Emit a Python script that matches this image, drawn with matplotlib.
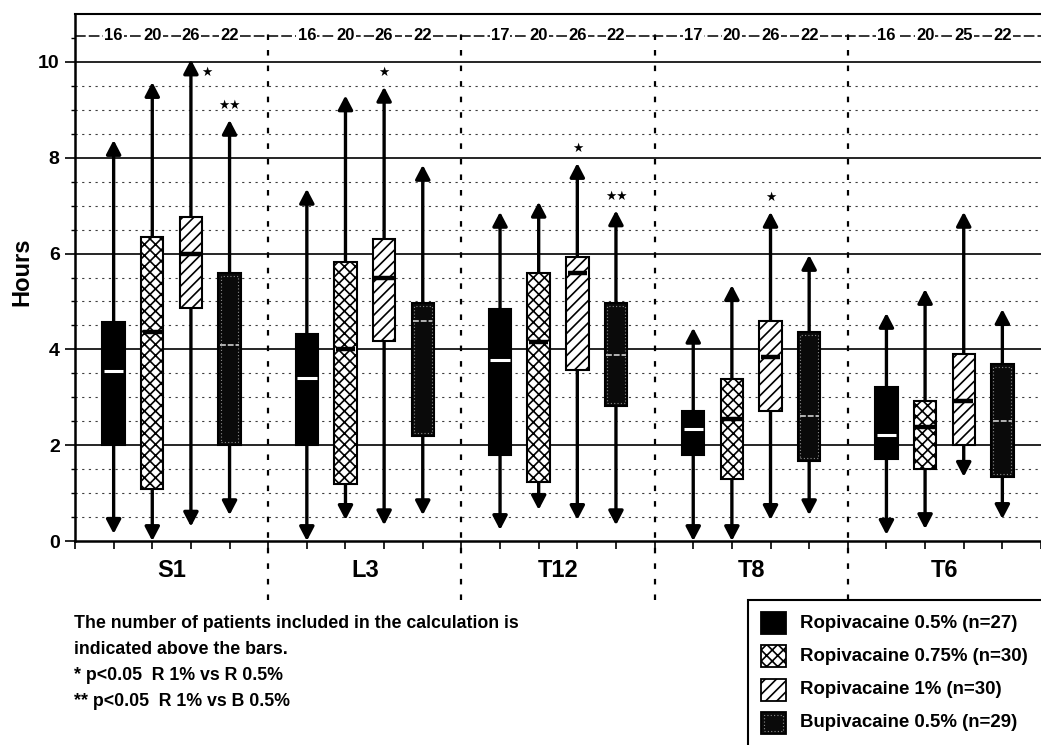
import matplotlib
matplotlib.use("Agg")
import matplotlib.pyplot as plt
from matplotlib.patches import Rectangle

plt.rcParams['font.family'] = ['Liberation Sans', 'DejaVu Sans']
plt.rcParams['font.weight'] = 'bold'
plt.rcParams['hatch.linewidth'] = 1.2

# ---------------- data ----------------
groups = ['S1', 'L3', 'T12', 'T8', 'T6']
series_labels = ['Ropivacaine 0.5% (n=27)', 'Ropivacaine 0.75% (n=30)',
                 'Ropivacaine 1% (n=30)', 'Bupivacaine 0.5% (n=29)']

r05_low = [0.15, 0.0, 0.23, 0.0, 0.13]
r05_q1 = [2.0, 2.0, 1.8, 1.8, 1.71]
r05_med = [3.55, 3.4, 3.78, 2.34, 2.21]
r05_q3 = [4.58, 4.32, 4.84, 2.71, 3.21]
r05_high = [8.37, 7.35, 6.87, 4.45, 4.76]

r075_low = [0.0, 0.44, 0.65, 0.0, 0.25]
r075_q1 = [1.08, 1.2, 1.23, 1.29, 1.5]
r075_med = [4.37, 4.0, 4.15, 2.55, 2.38]
r075_q3 = [6.35, 5.83, 5.59, 3.38, 2.92]
r075_high = [9.58, 9.3, 7.08, 5.34, 5.26]

r1_low = [0.3, 0.33, 0.44, 0.44, 1.34]
r1_q1 = [4.86, 4.18, 3.57, 2.71, 2.0]
r1_med = [6.0, 5.5, 5.6, 3.84, 2.92]
r1_q3 = [6.77, 6.3, 5.93, 4.59, 3.9]
r1_high = [10.05, 9.48, 7.89, 6.87, 6.87]

b05_low = [0.54, 0.54, 0.33, 0.54, 0.46]
b05_q1 = [2.0, 2.2, 2.82, 1.67, 1.34]
b05_med = [4.1, 4.6, 3.88, 2.6, 2.5]
b05_q3 = [5.6, 4.97, 4.97, 4.36, 3.7]
b05_high = [8.79, 7.85, 6.9, 5.97, 4.84]

r05_n = [16, 16, 17, 17, 16]
r075_n = [20, 20, 20, 20, 20]
r1_n = [26, 26, 26, 26, 25]
b05_n = [22, 22, 22, 22, 22]

# significance marks: (group, series index, number of stars)
sig_marks = [('S1', 2, 1), ('S1', 3, 2), ('L3', 2, 1),
             ('T12', 2, 1), ('T12', 3, 2), ('T8', 2, 1)]

y_major = [0, 2, 4, 6, 8, 10]

note_lines = ['The number of patients included in the calculation is',
              'indicated above the bars.',
              '* p<0.05  R 1% vs R 0.5%',
              '** p<0.05  R 1% vs B 0.5%']

series_data = [
    dict(low=r05_low, q1=r05_q1, med=r05_med, q3=r05_q3, high=r05_high, n=r05_n),
    dict(low=r075_low, q1=r075_q1, med=r075_med, q3=r075_q3, high=r075_high, n=r075_n),
    dict(low=r1_low, q1=r1_q1, med=r1_med, q3=r1_q3, high=r1_high, n=r1_n),
    dict(low=b05_low, q1=b05_q1, med=b05_med, q3=b05_q3, high=b05_high, n=b05_n),
]

styles = [
    dict(face='black', hatch=None, med_color='white', med_lw=2.2, med_ls='-', inner=False),
    dict(face='white', hatch='xxx', med_color='black', med_lw=3.2, med_ls='-', inner=False),
    dict(face='white', hatch='///', med_color='black', med_lw=3.2, med_ls='-', inner=False),
    dict(face='#0a0a0a', hatch=None, med_color='0.7', med_lw=1.4, med_ls=(0, (3, 1)), inner=True),
]

# ---------------- figure ----------------
W, H = 1041, 745
fig = plt.figure(figsize=(W / 100, H / 100), dpi=100)


def fx(px):
    return px / W


def fy(py):
    return 1 - py / H


ax = fig.add_axes([fx(75), fy(541), fx(1041) - fx(75), fy(14) - fy(541)])
ax.set_xlim(0, 25)
ax.set_ylim(0, 11)

n_groups = len(groups)
n_series = len(series_labels)
step = n_series + 1

# grid lines
for y in y_major[1:]:
    ax.axhline(y, color='black', lw=1.2, zorder=0)
minor_vals = [v / 2 for v in range(1, 20) if v % 4 != 0]
for y in minor_vals:
    ax.axhline(y, color='0.25', lw=0.8, ls=(0, (2, 4)), zorder=0)

# number line at top
ax.axhline(10.55, color='black', lw=1.1, ls=(0, (7, 2)), zorder=1)

# separators
for g in range(1, n_groups):
    ax.axvline(g * step, ymin=-0.112, ymax=0.975, color='black', lw=1.6,
               ls=(0, (2.5, 4.5)), clip_on=False, zorder=1)

box_w = 0.58
tips = {}
for g in range(n_groups):
    for s in range(n_series):
        d = series_data[s]
        st = styles[s]
        pos = g * step + s + 1
        q1, q3, med = d['q1'][g], d['q3'][g], d['med'][g]
        lo, hi = d['low'][g], d['high'][g]
        tips[(groups[g], s)] = (pos, hi)
        for start, end in ((q3, hi), (q1, lo)):
            ax.annotate('', xy=(pos, end), xytext=(pos, start),
                        arrowprops=dict(arrowstyle='-|>,head_length=0.42,head_width=0.22',
                                        lw=2.4, color='black', shrinkA=0, shrinkB=0,
                                        mutation_scale=20),
                        annotation_clip=False, zorder=2)
        rect = Rectangle((pos - box_w / 2, q1), box_w, q3 - q1,
                         facecolor=st['face'], edgecolor='black', lw=1.5,
                         hatch=st['hatch'], zorder=3)
        ax.add_patch(rect)
        if st['inner']:
            ax.add_patch(Rectangle((pos - box_w / 2 + 0.06, q1 + 0.06), box_w - 0.12,
                                   q3 - q1 - 0.12, fill=False, edgecolor='0.55',
                                   lw=0.8, ls=(0, (1, 2)), zorder=4))
        ax.plot([pos - box_w / 2 + 0.04, pos + box_w / 2 - 0.04], [med, med],
                color=st['med_color'], lw=st['med_lw'], ls=st['med_ls'],
                solid_capstyle='butt', zorder=5)
        ax.text(pos, 10.55, str(d['n'][g]), ha='center', va='center', fontsize=12,
                fontweight='bold', zorder=6,
                bbox=dict(facecolor='white', edgecolor='none', pad=0.8))

# significance stars
for grp, s, k in sig_marks:
    x, hi = tips[(grp, s)]
    if hi > 9.9:
        x, y = x + 0.4, hi - 0.27
    else:
        y = hi + 0.3
    ax.text(x, y, '\u2605' * k, ha='center', va='center', fontsize=9,
            family=['DejaVu Sans'], zorder=6)

# group labels
for g, name in enumerate(groups):
    ax.text(g * step + step / 2, -0.62, name, ha='center', va='center',
            fontsize=17, fontweight='bold', clip_on=False)

# axes styling
ax.set_xticks(range(0, 26))
ax.set_xticklabels([])
ax.set_yticks(y_major)
ax.set_yticklabels([str(v) for v in y_major], fontsize=14, fontweight='bold')
ax.set_yticks([v / 2 for v in range(1, 22)], minor=True)
ax.tick_params(axis='x', direction='out', length=6, width=1.2)
ax.tick_params(axis='y', which='major', direction='out', length=7, width=1.2, pad=4)
ax.tick_params(axis='y', which='minor', direction='out', length=3, width=1.0)
ax.spines['right'].set_visible(False)
for sp in ('left', 'bottom'):
    ax.spines[sp].set_linewidth(1.8)
ax.spines['top'].set_linewidth(1.5)

fig.text(fx(22), fy(272), 'Hours', rotation=90, ha='center', va='center',
         fontsize=17, fontweight='bold')

# notes
for i, line in enumerate(note_lines):
    fig.text(fx(74), fy(624 + i * 26), line, ha='left', va='center',
             fontsize=12.8, fontweight='bold')

# legend (manual)
fig.patches.append(Rectangle((fx(748), fy(760)), fx(1060) - fx(748), fy(600) - fy(760),
                             transform=fig.transFigure, fill=False, edgecolor='black',
                             lw=1.5, clip_on=False))
for i, lab in enumerate(series_labels):
    st = styles[i]
    yc = 623 + i * 33.3
    fig.patches.append(Rectangle((fx(761), fy(yc + 11)), fx(786) - fx(761),
                                 fy(yc - 11) - fy(yc + 11), transform=fig.transFigure,
                                 facecolor=st['face'], edgecolor='black', lw=1.3,
                                 hatch=st['hatch']))
    if st['inner']:
        fig.patches.append(Rectangle((fx(764), fy(yc + 8)), fx(783) - fx(764),
                                     fy(yc - 8) - fy(yc + 8), transform=fig.transFigure,
                                     fill=False, edgecolor='0.55', lw=0.8, ls=(0, (1, 2))))
    fig.text(fx(800), fy(yc), lab, ha='left', va='center', fontsize=13.4,
             fontweight='bold')

fig.savefig('out.png', dpi=100)
